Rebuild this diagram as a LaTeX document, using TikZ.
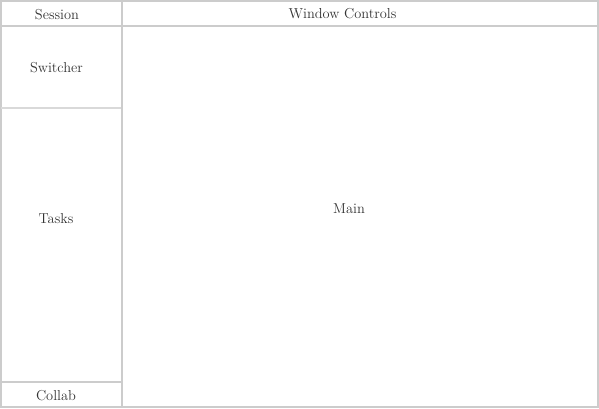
\documentclass[tikz,border=0pt]{standalone}
\begin{document}
\begin{tikzpicture}[x=1pt,y=-1pt,
  grid/.style={draw=black!20, line width=2pt},
  softgrid/.style={draw=black!15, line width=2pt},
  lbl/.style={anchor=base, inner sep=0pt, font=\fontsize{14.4}{16}\selectfont, text=black!80}]
\useasboundingbox (0,0) rectangle (599,408);
% outer frame
\draw[grid] (1,1) rectangle (598,407);
% column and row separators
\draw[grid] (121.7,1) -- (121.7,407);
\draw[grid] (1,26) -- (598,26);
\draw[softgrid] (1,108) -- (120.7,108);
\draw[grid] (1,382) -- (120.7,382);
% labels
\node[lbl] (session) at (57,19) {Session};
\node[lbl] (window) at (342.5,18) {Window Controls};
\node[lbl] (switcher) at (56.5,72) {Switcher};
\node[lbl] (tasks) at (56,223) {Tasks};
\node[lbl] (main) at (349,213) {Main};
\node[lbl] (collab) at (56,400) {Collab};
\end{tikzpicture}
\end{document}
